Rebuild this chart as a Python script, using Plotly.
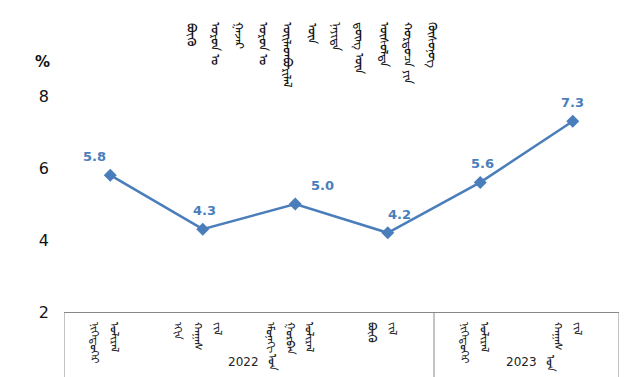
import plotly.graph_objects as go

# ---- data ----
categories = ["2022-Q1", "2022-H1", "2022-Q1-3", "2022-FY", "2023-Q1", "2023-H1"]
growth = [5.8, 4.3, 5.0, 4.2, 5.6, 7.3]
label_shift = [-16, 2, 27, 12, 2, 0]

# x tick labels: each item is a list of vertical Mongolian words (columns, left to right)
tick_words = [
    ["ᠨᠢᠭᠡᠳᠦᠭᠡᠷ", "ᠤᠯᠢᠷᠠᠯ"],
    ["ᠡᠬᠢᠨ", "ᠬᠠᠭᠠᠰ", "ᠵᠢᠯ"],
    ["ᠡᠮᠦᠨᠡᠬᠢ", "ᠭᠤᠷᠪᠠᠨ", "ᠤᠯᠢᠷᠠᠯ"],
    ["ᠪᠦᠬᠦ", "ᠵᠢᠯ"],
    ["ᠨᠢᠭᠡᠳᠦᠭᠡᠷ", "ᠤᠯᠢᠷᠠᠯ"],
    ["ᠬᠠᠭᠠᠰ", "ᠵᠢᠯ"],
]
year_numbers = ["2022", "2023"]
year_word = "ᠣᠨ"
year_groups = [(0, 3), (4, 5)]

title_words = ["ᠪᠦᠬᠦ", "ᠣᠷᠣᠨ ᠤ", "ᠭᠠᠵᠠᠷ", "ᠣᠷᠣᠨ ᠤ", "ᠦᠢᠯᠡᠳᠪᠦᠷᠢᠯᠡᠯ", "ᠦᠨ",
               "ᠨᠡᠶᠢᠲᠡ", "ᠳ᠋ᠦᠩ ᠦᠨ", "ᠥᠰᠥᠯᠲᠡ", "ᠬᠤᠷᠳᠤᠴᠠ ᠶᠢᠨ", "ᠬᠦᠰᠦᠨᠦᠭ"]
y_unit = "%"
y_ticks = [2, 4, 6, 8]

blue = "#4A7EBB"
xi = list(range(len(categories)))

# geometry: the page body adds an 8px offset, so compensate in margins
OFF = 8
W, H = 635, 377
L, R, T, B = 64 - OFF, 16 + OFF, 96 - OFF, 65 + OFF
PW, PH = W - L - R, H - T - B


def px_x(px):  # screen pixel -> paper x
    return (px - OFF - L) / PW


def px_y(py):  # screen pixel -> paper y
    return (H - B - (py - OFF)) / PH


fig = go.Figure()
fig.add_trace(go.Scatter(
    x=xi, y=growth, mode="lines+markers",
    line=dict(color=blue, width=2.5),
    marker=dict(symbol="diamond", size=10, color=blue),
    hoverinfo="skip",
))

annotations = []
# data labels
for x, v, s in zip(xi, growth, label_shift):
    annotations.append(dict(
        x=x, y=v, xref="x", yref="y", text=f"{v:.1f}", showarrow=False,
        yanchor="bottom", yshift=9, xshift=s,
        font=dict(size=13, color=blue, family="DejaVu Sans", weight="bold"),
    ))
# x tick labels (vertical Mongolian, columns left to right)
for x, words in zip(xi, tick_words):
    n = len(words)
    step = 20
    for j, w in enumerate(words):
        annotations.append(dict(
            x=x, y=0, xref="x", yref="paper", text=w, showarrow=False,
            textangle=90, xanchor="center", yanchor="top",
            xshift=(j - (n - 1) / 2) * step - 4, yshift=-8,
            font=dict(size=11, color="#222222", family="Noto Sans"),
        ))
# year labels: number horizontal, Mongolian word vertical
for num, (a, b) in zip(year_numbers, year_groups):
    annotations.append(dict(
        x=(a + b) / 2, y=0, xref="x", yref="paper", text=num, showarrow=False,
        xanchor="right", yanchor="top", yshift=-41, xshift=12,
        font=dict(size=12, color="#222222", family="DejaVu Sans"),
    ))
    annotations.append(dict(
        x=(a + b) / 2, y=0, xref="x", yref="paper", text=year_word,
        showarrow=False, textangle=90,
        xanchor="left", yanchor="top", yshift=-40, xshift=15,
        font=dict(size=11, color="#222222", family="Noto Sans"),
    ))
# title columns
for j, w in enumerate(title_words):
    annotations.append(dict(
        x=px_x(191 + j * 24.2), y=px_y(20), xref="paper", yref="paper",
        text=w, showarrow=False, textangle=90,
        xanchor="center", yanchor="top",
        font=dict(size=12, color="#111111", family="Noto Sans"),
    ))
# unit
annotations.append(dict(
    x=px_x(42), y=px_y(62), xref="paper", yref="paper", text=y_unit,
    showarrow=False, xanchor="center", yanchor="middle",
    font=dict(size=15, color="#111111", family="DejaVu Sans", weight="bold"),
))

shapes = []
for xb in [-0.5, 3.5, 5.5]:
    shapes.append(dict(type="line", xref="x", yref="paper", x0=xb, x1=xb,
                       y0=0, y1=-0.35, line=dict(color="#888888", width=1)))

fig.update_layout(
    width=W, height=H,
    margin=dict(l=L, r=R, t=T, b=B),
    paper_bgcolor="white", plot_bgcolor="white",
    showlegend=False,
    xaxis=dict(range=[-0.5, 5.5], showticklabels=False, ticks="",
               showgrid=False, zeroline=False, showline=True,
               linecolor="#888888", linewidth=1),
    yaxis=dict(range=[2, 8], tickvals=y_ticks, showgrid=False, zeroline=False,
               showline=False, ticks="", ticklabelstandoff=14,
               tickfont=dict(size=16, color="#111111", family="DejaVu Sans")),
    annotations=annotations,
    shapes=shapes,
)

fig.write_html("out.html")
